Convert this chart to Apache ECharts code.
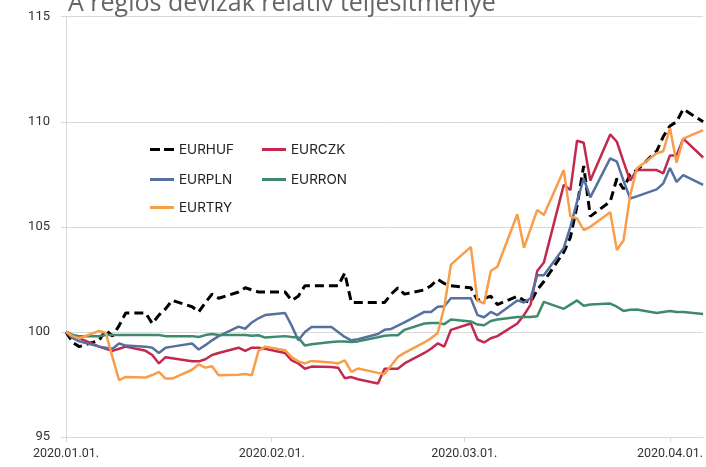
<!DOCTYPE html>
<html>
<head>
<meta charset="utf-8">
<script src="https://cdn.jsdelivr.net/npm/echarts/dist/echarts.min.js"></script>
<style>
  html, body { margin: 0; padding: 0; background: #fff; }
  #chart { width: 706px; height: 467px; }
</style>
</head>
<body>
<div id="chart"></div>
<script>
// trading days, 2020
var dates = [
  '2020-01-01', '2020-01-02', '2020-01-03', '2020-01-06', '2020-01-07', '2020-01-08', '2020-01-09', '2020-01-10',
  '2020-01-13', '2020-01-14', '2020-01-15', '2020-01-16', '2020-01-17', '2020-01-20', '2020-01-21', '2020-01-22',
  '2020-01-23', '2020-01-24', '2020-01-27', '2020-01-28', '2020-01-29', '2020-01-30', '2020-01-31',
  '2020-02-03', '2020-02-04', '2020-02-05', '2020-02-06', '2020-02-07', '2020-02-10', '2020-02-11', '2020-02-12',
  '2020-02-13', '2020-02-14', '2020-02-17', '2020-02-18', '2020-02-19', '2020-02-20', '2020-02-21', '2020-02-24',
  '2020-02-25', '2020-02-26', '2020-02-27', '2020-02-28',
  '2020-03-02', '2020-03-03', '2020-03-04', '2020-03-05', '2020-03-06', '2020-03-09', '2020-03-10', '2020-03-11',
  '2020-03-12', '2020-03-13', '2020-03-16', '2020-03-17', '2020-03-18', '2020-03-19', '2020-03-20', '2020-03-23',
  '2020-03-24', '2020-03-25', '2020-03-26', '2020-03-27', '2020-03-30', '2020-03-31',
  '2020-04-01', '2020-04-02', '2020-04-03', '2020-04-06'
];

var eurhuf = [
  100.0, 99.5, 99.3, 99.6, 100.1, 99.8, 100.3, 100.9, 100.9, 100.4, 100.8, 101.1, 101.5, 101.2, 100.95, 101.4,
  101.8, 101.6, 101.9, 102.1, 102.0, 101.9, 101.9,
  101.9, 101.5, 101.7, 102.2, 102.2, 102.2, 102.2, 102.8, 101.4, 101.4, 101.4, 101.4, 101.8, 102.1, 101.8, 102.0,
  102.2, 102.5, 102.3, 102.2,
  102.1, 101.5, 101.6, 101.7, 101.3, 101.7, 101.5, 101.4, 102.0, 102.4, 103.8, 104.5, 106.0, 107.9, 105.5, 106.2,
  107.3, 106.8, 107.5, 107.7, 108.6, 109.3,
  109.8, 110.0, 110.6, 110.0
];
var eurczk = [
  100.0, 99.85, 99.7, 99.3, 99.2, 99.1, 99.2, 99.3, 99.1, 98.9, 98.5, 98.8, 98.75, 98.6, 98.6, 98.7,
  98.9, 99.0, 99.25, 99.1, 99.25, 99.25, 99.2,
  99.0, 98.65, 98.5, 98.25, 98.35, 98.33, 98.3, 97.8, 97.85, 97.75, 97.55, 98.25, 98.25, 98.25, 98.5, 99.0,
  99.2, 99.45, 99.3, 100.1,
  100.4, 99.64, 99.5, 99.7, 99.8, 100.4, 100.8, 101.3, 102.9, 103.3, 107.0, 106.75, 109.1, 109.0, 107.2, 109.4,
  109.05, 108.1, 107.2, 107.7, 107.7, 107.55,
  108.4, 108.4, 109.2, 108.3
];
var eurpln = [
  100.0, 99.7, 99.55, 99.3, 99.25, 99.2, 99.45, 99.35, 99.3, 99.25, 99.0, 99.25, 99.3, 99.45, 99.16, 99.37,
  99.6, 99.8, 100.25, 100.15, 100.45, 100.65, 100.8,
  100.9, 100.3, 99.6, 100.0, 100.24, 100.24, 100.0, 99.76, 99.6, 99.65, 99.9, 100.1, 100.14, 100.3, 100.45, 100.95,
  100.95, 101.2, 101.22, 101.6,
  101.6, 100.8, 100.7, 100.95, 100.8, 101.5, 101.4, 101.6, 102.7, 102.7, 104.0, 105.0, 106.2, 107.3, 106.4, 108.26,
  108.1, 107.2, 106.35, 106.45, 106.78, 107.07,
  107.8, 107.14, 107.46, 107.0
];
var eurron = [
  100.0, 99.85, 99.8, 99.8, 99.85, 99.85, 99.85, 99.85, 99.85, 99.85, 99.85, 99.8, 99.8, 99.8, 99.76, 99.85,
  99.9, 99.85, 99.85, 99.85, 99.82, 99.84, 99.73,
  99.8, 99.76, 99.73, 99.35, 99.41, 99.52, 99.55, 99.55, 99.52, 99.55, 99.75, 99.82, 99.84, 99.84, 100.1, 100.4,
  100.43, 100.43, 100.37, 100.59,
  100.5, 100.35, 100.32, 100.52, 100.59, 100.71, 100.71, 100.71, 100.75, 101.43, 101.1, 101.3, 101.5, 101.25, 101.3, 101.35,
  101.2, 101.0, 101.05, 101.07, 100.9, 100.95,
  101.0, 100.95, 100.95, 100.85
];
var eurtry = [
  100.0, 99.8, 99.7, 100.05, 99.95, 98.8, 97.7, 97.86, 97.83, 97.95, 98.1, 97.78, 97.78, 98.2, 98.46, 98.3,
  98.37, 97.94, 97.96, 98.0, 97.94, 99.1, 99.3,
  99.13, 98.8, 98.6, 98.5, 98.62, 98.55, 98.5, 98.65, 98.1, 98.26, 98.05, 98.0, 98.4, 98.81, 99.0, 99.5,
  99.7, 99.95, 101.2, 103.2,
  104.05, 101.5, 101.35, 102.9, 103.1, 105.6, 104.0, 104.9, 105.8, 105.56, 107.7, 105.5, 105.4, 104.85, 105.0, 105.7,
  103.9, 104.35, 106.5, 107.78, 108.5, 108.6,
  109.7, 108.05, 109.2, 109.6
];

var monthTicks = ['2020-01-01', '2020-02-01', '2020-03-01', '2020-04-01'];
var yTicks = [95, 100, 105, 110, 115];

function localTime(s) {
  var p = s.split('-');
  return new Date(+p[0], +p[1] - 1, +p[2]).getTime();
}
function pad(n) { return n < 10 ? '0' + n : '' + n; }
function pairs(vals) {
  return dates.map(function (d, i) { return [localTime(d), vals[i]]; });
}

var chart = echarts.init(document.getElementById('chart'), null, { renderer: 'canvas' });

var dashIcon = 'path://M0,0h10v3h-10z M14,0h10v3h-10z';
function legendAt(name, icon, left, top) {
  return {
    data: [{ name: name, icon: icon }],
    left: left,
    top: top,
    padding: 0,
    itemWidth: 24,
    itemHeight: 3,
    itemGap: 0,
    textStyle: { fontFamily: 'Inter', fontSize: 13.5, color: '#222' }
  };
}

var option = {
  backgroundColor: '#fff',
  animation: false,
  title: {
    text: 'A régiós devizák relatív teljesítménye',
    left: 63,
    top: -14,
    textStyle: { fontFamily: 'Open Sans', fontSize: 25, fontWeight: 'normal', color: '#666' }
  },
  legend: [
    legendAt('EURHUF', dashIcon, 150, 142.5),
    legendAt('EURCZK', 'rect', 262, 142.5),
    legendAt('EURPLN', 'rect', 150, 172.5),
    legendAt('EURRON', 'rect', 262, 172.5),
    legendAt('EURTRY', 'rect', 150, 200.5)
  ],
  grid: { left: 66, right: 0, top: 16.7, bottom: 30, containLabel: false },
  // x is a plain value axis over timestamps, labelled only at month starts
  xAxis: {
    type: 'value',
    min: localTime('2020-01-01'),
    max: localTime('2020-04-06'),
    axisLine: { lineStyle: { color: '#d9d9d9' } },
    axisTick: { show: true, length: 5, lineStyle: { color: '#d9d9d9' }, customValues: monthTicks.map(localTime) },
    axisLabel: {
      customValues: monthTicks.map(localTime),
      margin: 10,
      fontFamily: 'Roboto',
      fontSize: 12.5,
      color: '#333',
      formatter: function (v) {
        var d = new Date(v);
        return d.getFullYear() + '.' + pad(d.getMonth() + 1) + '.' + pad(d.getDate()) + '.';
      }
    },
    splitLine: { show: false }
  },
  yAxis: {
    type: 'value',
    min: yTicks[0],
    max: yTicks[yTicks.length - 1],
    interval: 5,
    axisLine: { show: true, lineStyle: { color: '#d9d9d9' } },
    axisTick: { show: true, length: 5, lineStyle: { color: '#d9d9d9' } },
    axisLabel: { margin: 16, fontFamily: 'Roboto', fontSize: 13, color: '#333' },
    splitLine: { lineStyle: { color: '#d9d9d9', width: 1 } }
  },
  series: [{
    name: 'EURHUF',
    type: 'line',
    symbol: 'none',
    data: pairs(eurhuf),
    itemStyle: { color: '#000' },
    lineStyle: { color: '#000', width: 3, type: [9, 5] }
  }, {
    name: 'EURCZK',
    type: 'line',
    symbol: 'none',
    data: pairs(eurczk),
    itemStyle: { color: '#c3294f' },
    lineStyle: { color: '#c3294f', width: 2.5 }
  }, {
    name: 'EURPLN',
    type: 'line',
    symbol: 'none',
    data: pairs(eurpln),
    itemStyle: { color: '#5671a0' },
    lineStyle: { color: '#5671a0', width: 2.5 }
  }, {
    name: 'EURRON',
    type: 'line',
    symbol: 'none',
    data: pairs(eurron),
    itemStyle: { color: '#3f8a6d' },
    lineStyle: { color: '#3f8a6d', width: 2.5 }
  }, {
    name: 'EURTRY',
    type: 'line',
    symbol: 'none',
    data: pairs(eurtry),
    itemStyle: { color: '#f99d4a' },
    lineStyle: { color: '#f99d4a', width: 2.5 }
  }]
};

chart.setOption(option);
</script>
</body>
</html>
